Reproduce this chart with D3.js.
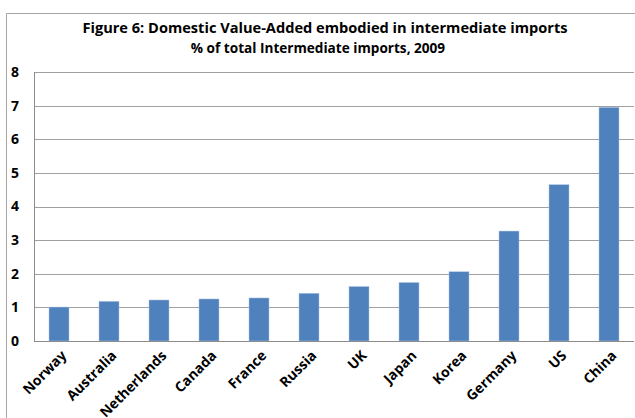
<!DOCTYPE html>
<html>
<head>
<meta charset="utf-8">
<script src="https://cdn.jsdelivr.net/npm/d3@7"></script>
<style>
  body { margin: 0; background: #fff; }
  text { font-family: "Open Sans", Arial, sans-serif; font-weight: bold; fill: #000; }
</style>
</head>
<body>
<svg id="chart" width="635" height="418"></svg>
<script>
// values
const countries = ['Norway', 'Australia', 'Netherlands', 'Canada', 'France', 'Russia', 'UK', 'Japan', 'Korea', 'Germany', 'US', 'China'];
const shares = [1.01, 1.18, 1.22, 1.25, 1.28, 1.42, 1.62, 1.74, 2.06, 3.27, 4.65, 6.95];
const yTicks = [0, 1, 2, 3, 4, 5, 6, 7, 8];

const margin = { top: 72, right: 1, bottom: 77, left: 34 };
const width = 635;
const height = 418;

const svg = d3.select('#chart');

// outer chart frame
svg.append('path')
  .attr('d', `M6.5,${height} V13.5 H${width}`)
  .attr('fill', 'none')
  .attr('stroke', '#a6a6a6')
  .attr('stroke-width', 1);

const x = d3.scaleBand()
  .domain(countries)
  .range([margin.left, width - margin.right])
  .paddingInner(0.6)
  .paddingOuter(0.3);

const y = d3.scaleLinear()
  .domain([0, 8])
  .range([height - margin.bottom, margin.top]);

// gridlines
svg.append('g')
  .selectAll('line')
  .data(yTicks.slice(1))
  .join('line')
  .attr('x1', margin.left)
  .attr('x2', width - margin.right)
  .attr('y1', (d) => Math.round(y(d)) + 0.5)
  .attr('y2', (d) => Math.round(y(d)) + 0.5)
  .attr('stroke', '#a0a0a0')
  .attr('stroke-width', 1);

// bars
svg.append('g')
  .selectAll('rect')
  .data(shares)
  .join('rect')
  .attr('x', (d, i) => x(countries[i]))
  .attr('y', (d) => y(d))
  .attr('width', x.bandwidth())
  .attr('height', (d) => y(0) - y(d))
  .attr('fill', '#4f81bd')
  .attr('stroke', '#b3c7e5')
  .attr('stroke-width', 0.5);

// axes lines
svg.append('line')
  .attr('x1', margin.left + 0.5).attr('x2', margin.left + 0.5)
  .attr('y1', y(8)).attr('y2', y(0))
  .attr('stroke', '#8c8c8c');
svg.append('line')
  .attr('x1', margin.left).attr('x2', width - margin.right)
  .attr('y1', Math.round(y(0)) + 0.5).attr('y2', Math.round(y(0)) + 0.5)
  .attr('stroke', '#8c8c8c');

// y tick labels
svg.append('g')
  .selectAll('text')
  .data(yTicks)
  .join('text')
  .attr('x', 15)
  .attr('y', (d) => y(d))
  .attr('dy', '0.35em')
  .attr('text-anchor', 'middle')
  .attr('font-size', 14)
  .text((d) => d);

// x labels, rotated
svg.append('g')
  .selectAll('text')
  .data(countries)
  .join('text')
  .attr('transform', (d) => `translate(${x(d) + x.bandwidth() / 2 + 5},${y(0) + 12}) rotate(-45)`)
  .attr('text-anchor', 'end')
  .attr('dy', '0.35em')
  .attr('font-size', 14)
  .text((d) => d);

// titles
svg.append('text')
  .attr('x', 325)
  .attr('y', 33)
  .attr('text-anchor', 'middle')
  .attr('font-size', 14.6)
  .text('Figure 6:  Domestic Value-Added embodied in intermediate imports');
svg.append('text')
  .attr('x', 318)
  .attr('y', 53)
  .attr('text-anchor', 'middle')
  .attr('font-size', 13.6)
  .text('% of total Intermediate imports, 2009');
</script>
</body>
</html>
